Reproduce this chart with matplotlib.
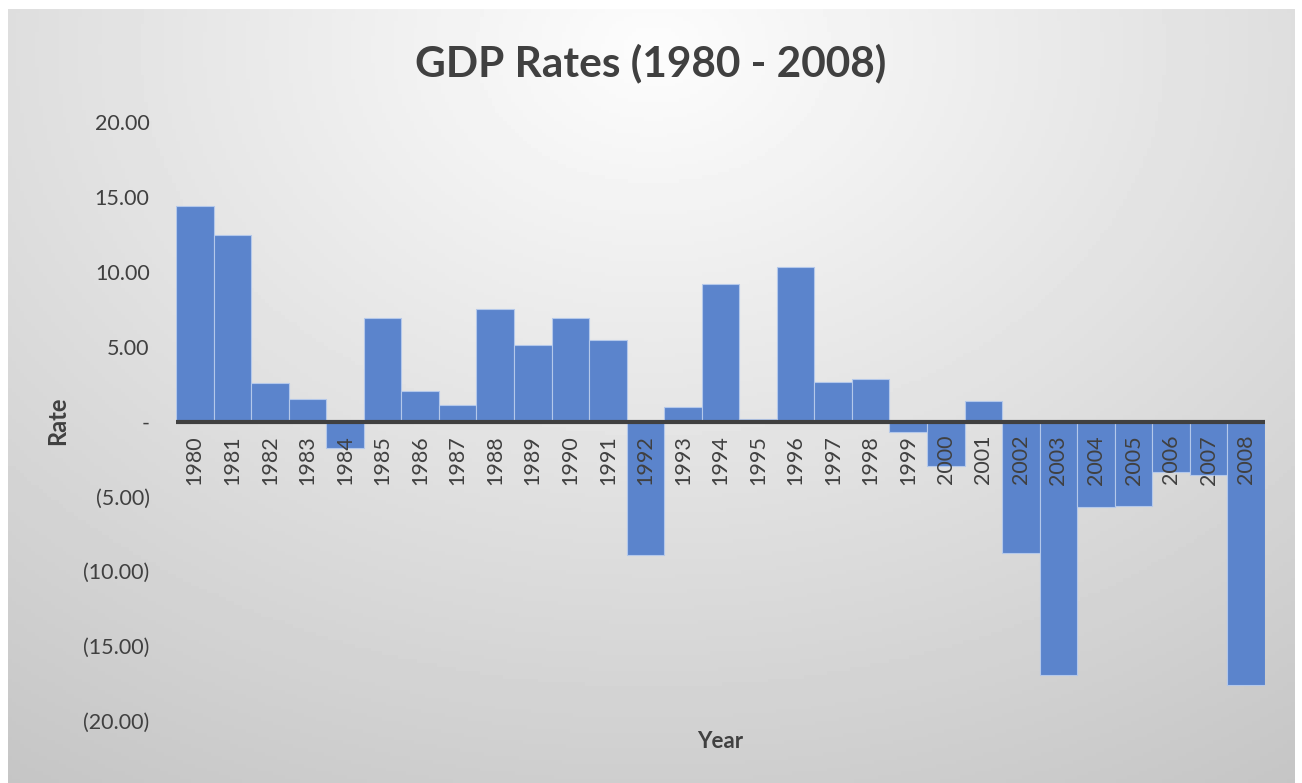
import numpy as np
import matplotlib
matplotlib.use('Agg')
import matplotlib.pyplot as plt
from matplotlib.ticker import FuncFormatter
from matplotlib.transforms import blended_transform_factory

# Data
years = list(range(1980, 2009))
rates = [14.40, 12.47, 2.60, 1.53, -1.80, 6.93, 2.07, 1.13, 7.53, 5.13,
         6.93, 5.47, -8.93, 1.00, 9.20, 0.20, 10.33, 2.67, 2.87, -0.73,
         -3.00, 1.40, -8.80, -16.93, -5.73, -5.67, -3.40, -3.60, -17.60]
y_ticks = [-20, -15, -10, -5, 0, 5, 10, 15, 20]

plt.rcParams['font.family'] = ['Lato', 'DejaVu Sans']

W, H = 1302, 783
fig = plt.figure(figsize=(W / 100, H / 100), dpi=100)

# Radial gradient background (chart area)
bg = fig.add_axes([8 / W, 0, 1 - 15 / W, 1 - 9 / H])
yy, xx = np.mgrid[0:200, 0:330]
d = np.sqrt(((xx - 165) / 330) ** 2 + ((yy - 10) / 250) ** 2)
shade = np.clip(0.99 - 0.24 * d, 0.76, 1.0)
bg.imshow(shade, cmap='gray', vmin=0, vmax=1, aspect='auto', extent=[0, 1, 0, 1])
bg.set_axis_off()

# Main plot area
ax = fig.add_axes([176 / W, 1 - 721 / H, (1265 - 176) / W, (721 - 122) / H])
ax.patch.set_alpha(0)
x = np.arange(len(years))
ax.bar(x, rates, width=1.0, color='#5b84cc', edgecolor='#b4c8ea', linewidth=0.8, zorder=2)
ax.set_xlim(-0.5, len(years) - 0.5)
ax.set_ylim(-20, 20)
ax.axhline(0, color='#404040', linewidth=3, zorder=3)

for s in ax.spines.values():
    s.set_visible(False)

def fmt(v, pos):
    if v == 0:
        return '-'
    if v < 0:
        return '(%.2f)' % abs(v)
    return '%.2f' % v

ax.set_yticks(y_ticks)
ax.yaxis.set_major_formatter(FuncFormatter(fmt))
ax.tick_params(axis='y', length=0, pad=19, labelsize=15.5, labelcolor='#404040')

# year labels sit just under the zero line, drawn over the bars
ax.set_xticks([])
trans = blended_transform_factory(ax.transData, fig.transFigure)
for xi, yr in zip(x, years):
    ax.text(xi, 1 - 435 / H, str(yr), transform=trans, rotation=90,
            ha='center', va='top', fontsize=15.5, color='#404040', zorder=4)

fig.text(651 / W, 1 - 63 / H, 'GDP Rates (1980 - 2008)', ha='center', va='center',
         fontsize=30.5, fontweight='bold', color='#404040')
fig.text(58 / W, 1 - 421 / H, 'Rate', rotation=90, ha='center', va='center',
         fontsize=17, fontweight='bold', color='#404040')
fig.text(720 / W, 1 - 741 / H, 'Year', ha='center', va='center',
         fontsize=16, fontweight='bold', color='#404040')

fig.savefig('out.png', dpi=100)
